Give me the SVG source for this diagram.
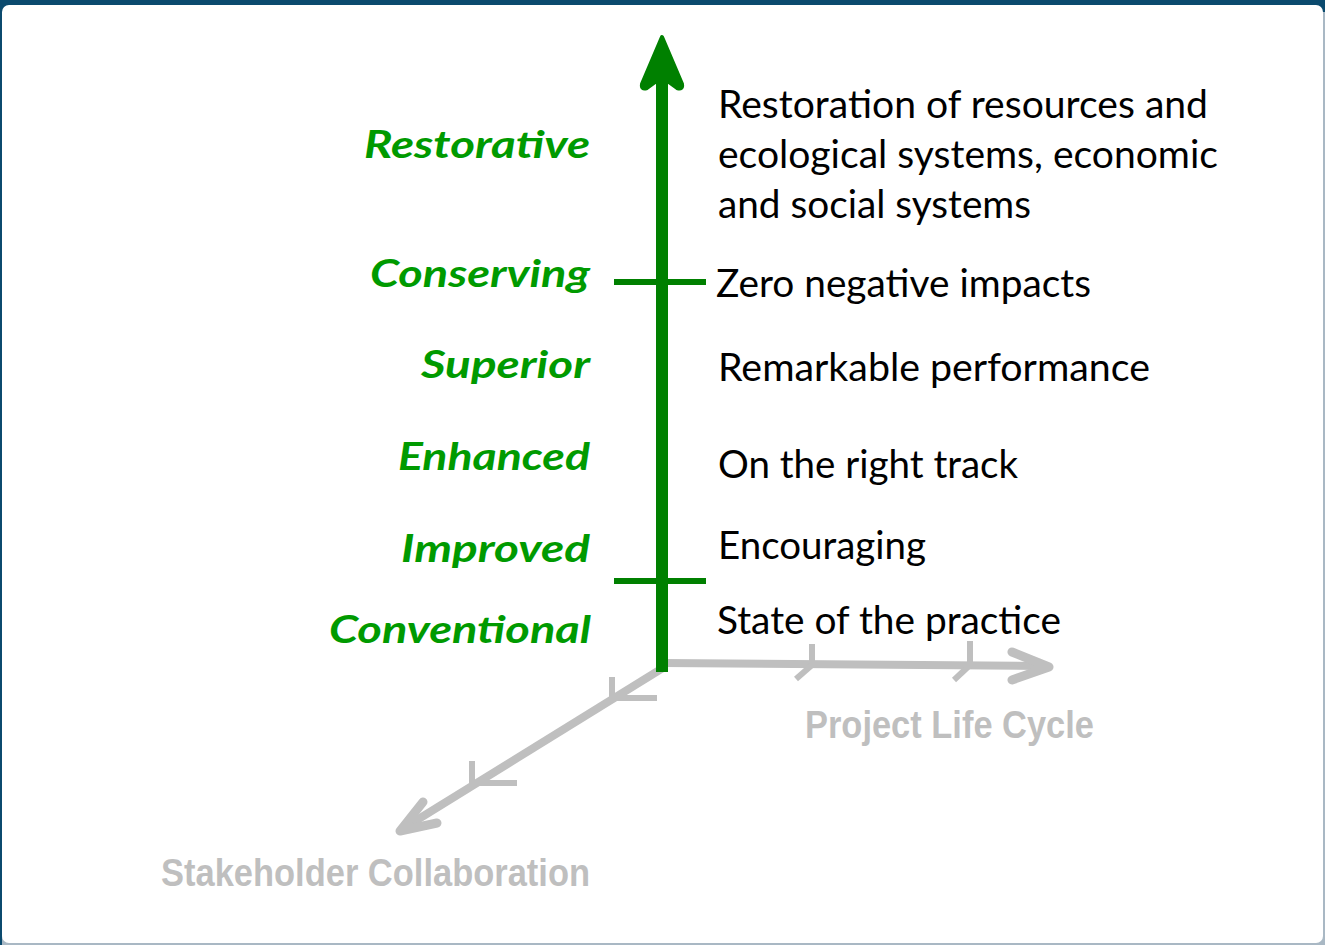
<svg xmlns="http://www.w3.org/2000/svg" width="1325" height="945" viewBox="0 0 1325 945">
<style>
.lvl{font-family:Lato,"Open Sans",sans-serif;font-weight:bold;font-style:italic;font-size:38px;fill:#009a00;text-anchor:end}
.desc{font-family:Lato,"Open Sans",sans-serif;font-size:38px;fill:#000}
.axl{font-family:"Liberation Sans Narrow","Liberation Sans",Arial,sans-serif;font-weight:bold;font-size:38px;fill:#bfbfbf}
.g{stroke:#bfbfbf;stroke-width:8;fill:none;stroke-linecap:butt}
.gr{stroke:#bfbfbf;stroke-width:9;fill:none;stroke-linecap:round;stroke-linejoin:round}
.gt{stroke:#bfbfbf;stroke-width:6;fill:none}
.tk{stroke:#008000;stroke-width:6;fill:none}
</style>
<rect x="0" y="0" width="1325" height="945" fill="#a9b8c4"/>
<rect x="0" y="0" width="1325" height="12" fill="#0b4a6e"/>
<rect x="0" y="0" width="2" height="945" fill="#0b4a6e"/>
<rect x="2" y="5" width="1321" height="938" rx="7" fill="#ffffff"/>

<g id="connectors">
  <!-- horizontal gray axis -->
  <line class="g" x1="664" y1="663" x2="1044" y2="666"/>
  <polyline class="gr" points="1012,652 1049,667 1012,680"/>
  <line class="gt" x1="812" y1="644" x2="812" y2="666"/>
  <line class="gt" x1="812" y1="665" x2="796" y2="679"/>
  <line class="gt" x1="970" y1="641" x2="970" y2="667"/>
  <line class="gt" x1="970" y1="665" x2="954" y2="680"/>
  <!-- diagonal gray axis -->
  <line class="g" x1="666" y1="666" x2="404" y2="828"/>
  <polyline class="gr" points="423,802 400,831 437,823"/>
  <line class="gt" x1="612" y1="677" x2="612" y2="699"/>
  <line class="gt" x1="610" y1="698" x2="657" y2="698"/>
  <line class="gt" x1="472" y1="761" x2="472" y2="785"/>
  <line class="gt" x1="470" y1="783" x2="517" y2="783"/>
  <!-- green vertical axis -->
  <line x1="662" y1="672" x2="662" y2="80" stroke="#008000" stroke-width="12"/>
  <path d="M662,37 L682,84 Q683,90 677,88 L666,80 L658,80 L647,88 Q641,90 642,84 Z" fill="#008000" stroke="#008000" stroke-width="4" stroke-linejoin="round"/>
  <line class="tk" x1="614" y1="282" x2="706" y2="282"/>
  <line class="tk" x1="614" y1="581" x2="706" y2="581"/>
</g>

<g id="restorative">
  <text class="lvl" x="590" y="158" textLength="226" lengthAdjust="spacingAndGlyphs">Restorative</text>
  <text class="desc" x="718" y="118" textLength="490" lengthAdjust="spacingAndGlyphs">Restoration of resources and</text>
  <text class="desc" x="718" y="168" textLength="500" lengthAdjust="spacingAndGlyphs">ecological systems, economic</text>
  <text class="desc" x="718" y="218" textLength="313" lengthAdjust="spacingAndGlyphs">and social systems</text>
</g>
<g id="conserving">
  <text class="lvl" x="590" y="287" textLength="220" lengthAdjust="spacingAndGlyphs">Conserving</text>
  <text class="desc" x="716" y="297" textLength="375" lengthAdjust="spacingAndGlyphs">Zero negative impacts</text>
</g>
<g id="superior">
  <text class="lvl" x="590" y="378" textLength="169" lengthAdjust="spacingAndGlyphs">Superior</text>
  <text class="desc" x="718" y="381" textLength="432" lengthAdjust="spacingAndGlyphs">Remarkable performance</text>
</g>
<g id="enhanced">
  <text class="lvl" x="590" y="470" textLength="192" lengthAdjust="spacingAndGlyphs">Enhanced</text>
  <text class="desc" x="718" y="478" textLength="300" lengthAdjust="spacingAndGlyphs">On the right track</text>
</g>
<g id="improved">
  <text class="lvl" x="590" y="562" textLength="189" lengthAdjust="spacingAndGlyphs">Improved</text>
  <text class="desc" x="718" y="559" textLength="208" lengthAdjust="spacingAndGlyphs">Encouraging</text>
</g>
<g id="conventional">
  <text class="lvl" x="591" y="643" textLength="262" lengthAdjust="spacingAndGlyphs">Conventional</text>
  <text class="desc" x="717" y="634" textLength="344" lengthAdjust="spacingAndGlyphs">State of the practice</text>
</g>
<g id="project-life-cycle">
  <text class="axl" x="805" y="738" textLength="289" lengthAdjust="spacingAndGlyphs">Project Life Cycle</text>
</g>
<g id="stakeholder-collaboration">
  <text class="axl" x="161" y="886" textLength="429" lengthAdjust="spacingAndGlyphs">Stakeholder Collaboration</text>
</g>
</svg>
